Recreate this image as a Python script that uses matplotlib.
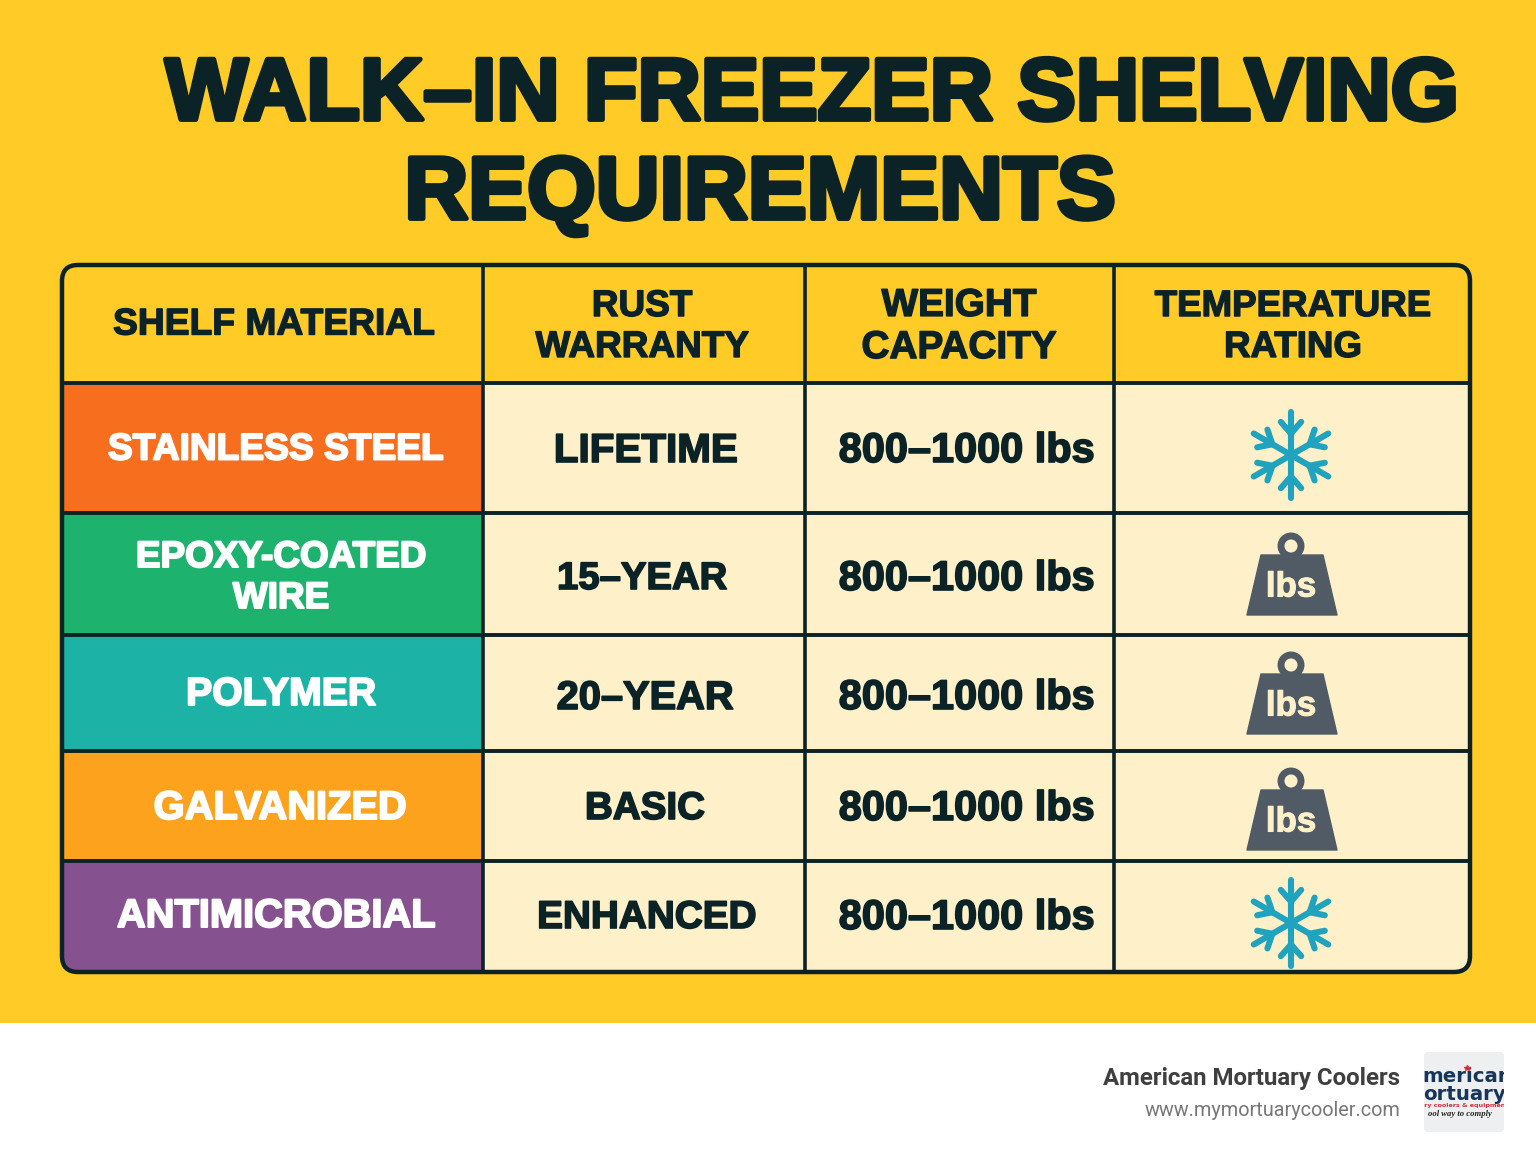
import matplotlib
matplotlib.use('Agg')
import matplotlib.pyplot as plt
import matplotlib.patheffects as pe
from matplotlib.patches import Rectangle, FancyBboxPatch, Polygon, Circle
import numpy as np

title_lines = ['WALK–IN FREEZER SHELVING', 'REQUIREMENTS']
headers = ['SHELF MATERIAL', 'RUST\nWARRANTY', 'WEIGHT\nCAPACITY', 'TEMPERATURE\nRATING']
materials = ['STAINLESS STEEL', 'EPOXY-COATED\nWIRE', 'POLYMER', 'GALVANIZED', 'ANTIMICROBIAL']
warranties = ['LIFETIME', '15–YEAR', '20–YEAR', 'BASIC', 'ENHANCED']
capacities = ['800–1000 lbs'] * 5
rating_icons = ['snow', 'weight', 'weight', 'weight', 'snow']
row_colors = ['#F76F1E', '#1DB36E', '#1DB2A6', '#FCA21C', '#85518F']

DARK = '#0B2226'
YELLOW = '#FFCB27'
CREAM = '#FEF0C8'
HEAVY = 'Liberation Sans'

col_x = [62, 483, 805, 1114, 1470]
row_y = [265, 383, 513, 635, 751, 861, 972]

fig = plt.figure(figsize=(15.36, 11.54), dpi=100)
ax = fig.add_axes([0, 0, 1, 1])
ax.set_xlim(0, 1536)
ax.set_ylim(1154, 0)
ax.axis('off')
renderer = fig.canvas.get_renderer()


def fit_text(x, y, s, width, color=DARK, stroke=1.0, spacing=1.0):
    # scale the font so the string comes out at the wanted pixel width
    t = ax.text(x, y, s, color=color, family=HEAVY, weight='bold', ha='center', va='center',
                multialignment='center', fontsize=20, linespacing=spacing, zorder=5)
    w = t.get_window_extent(renderer).width
    t.set_fontsize(20 * width / w)
    if stroke:
        t.set_path_effects([pe.withStroke(linewidth=stroke, foreground=color)])
    return t


def draw_snow(cx, cy, r, color='#1FA3BE'):
    for a in np.deg2rad(np.arange(0, 360, 60) + 90):
        d = np.array([np.cos(a), np.sin(a)])
        ax.plot([cx, cx + d[0] * r], [cy, cy + d[1] * r], color=color, lw=4.4,
                solid_capstyle='round', zorder=4)
        base = np.array([cx, cy]) + d * r * 0.5
        for off in [-0.72, 0.72]:
            b = a + off
            tip = base + np.array([np.cos(b), np.sin(b)]) * r * 0.36
            ax.plot([base[0], tip[0]], [base[1], tip[1]], color=color, lw=4.4,
                    solid_capstyle='round', zorder=4)


def draw_weight(cx, cy):
    grey = '#505B65'
    ax.add_patch(Circle((cx - 1, cy - 38), 10, fc=CREAM, ec=grey, lw=5, zorder=3))
    ax.add_patch(Polygon([[cx - 31, cy - 29], [cx + 31, cy - 29], [cx + 45, cy + 31], [cx - 45, cy + 31]],
                         closed=True, fc=grey, ec=grey, lw=1, joinstyle='round', zorder=4))
    fit_text(cx - 1, cy + 3, 'lbs', 50, color=CREAM, stroke=0.8)


# background
ax.add_patch(Rectangle((0, 0), 1536, 1023, fc=YELLOW, ec='none', zorder=0))
ax.add_patch(Rectangle((0, 1023), 1536, 131, fc='white', ec='none', zorder=0))

# title
fit_text(812, 97, title_lines[0], 1294, stroke=3.5)
fit_text(760, 196, title_lines[1], 710, stroke=3.5)

# table cells, clipped to the rounded frame
frame = FancyBboxPatch((col_x[0], row_y[0]), col_x[-1] - col_x[0], row_y[-1] - row_y[0],
                       boxstyle='round,pad=0,rounding_size=16', fc='none', ec=DARK, lw=3.2, zorder=3)
ax.add_patch(frame)
clip = FancyBboxPatch((col_x[0], row_y[0]), col_x[-1] - col_x[0], row_y[-1] - row_y[0],
                      boxstyle='round,pad=0,rounding_size=16', fc='none', ec='none',
                      transform=ax.transData)
ax.add_patch(clip)
for i, c in enumerate(row_colors):
    cell = Rectangle((col_x[0], row_y[i + 1]), col_x[1] - col_x[0], row_y[i + 2] - row_y[i + 1],
                     fc=c, ec='none', zorder=1)
    ax.add_patch(cell)
    cell.set_clip_path(clip)
    body = Rectangle((col_x[1], row_y[i + 1]), col_x[-1] - col_x[1], row_y[i + 2] - row_y[i + 1],
                     fc=CREAM, ec='none', zorder=1)
    ax.add_patch(body)
    body.set_clip_path(clip)

for x in col_x[1:-1]:
    ax.plot([x, x], [row_y[0], row_y[-1]], color=DARK, lw=2.6, zorder=2, solid_capstyle='butt')
for y in row_y[1:-1]:
    ax.plot([col_x[0], col_x[-1]], [y, y], color=DARK, lw=2.8, zorder=2, solid_capstyle='butt')

# header row
fit_text(274, 325, headers[0], 322, stroke=1.0)
fit_text(642, 327, headers[1], 213, stroke=1.0, spacing=1.22)
fit_text(959, 327, headers[2], 195, stroke=1.0, spacing=1.22)
fit_text(1293, 327, headers[3], 276, stroke=1.0, spacing=1.22)

# body rows
mat_y = [450, 578, 695, 808, 916]
mat_w = [336, 290, 190, 253, 318]
mat_x = [276, 281, 281, 280, 276]
war_y = [451, 579, 698, 809, 918]
war_w = [184, 170, 177, 120, 219]
war_x = [646, 642, 645, 645, 647]
icon_y = [455, 584, 703, 819, 923]
for i in range(5):
    spacing = 1.22 if '\n' in materials[i] else 1.0
    fit_text(mat_x[i], mat_y[i], materials[i], mat_w[i], color='white', stroke=1.4, spacing=spacing)
    fit_text(war_x[i], war_y[i], warranties[i], war_w[i], stroke=1.2)
    fit_text(967, war_y[i], capacities[i], 256, stroke=1.2)
    if rating_icons[i] == 'snow':
        draw_snow(1291, icon_y[i], 43)
    else:
        draw_weight(1292, icon_y[i])

# footer
ax.text(1400, 1078, 'American Mortuary Coolers', family='Roboto', weight='bold', fontsize=17.3,
        color='#3F3F3F', ha='right', va='center')
ax.text(1400, 1111, 'www.mymortuarycooler.com', family='Roboto', fontsize=14.3,
        color='#777777', ha='right', va='center')

# logo, agg only clips text to a box so use a plain rectangle for that
logo = FancyBboxPatch((1424, 1052), 80, 80, boxstyle='round,pad=0,rounding_size=4',
                      fc='#EEEFF0', ec='none', zorder=1)
ax.add_patch(logo)
logo_box = Rectangle((1424, 1052), 80, 80, fc='none', ec='none')
ax.add_patch(logo_box)
logo_texts = [
    (1467, 1077, 'merican', 14.2, '#16365C', 'bold', 'DejaVu Sans', 'normal'),
    (1464, 1094, 'ortuary', 14.2, '#16365C', 'bold', 'DejaVu Sans', 'normal'),
    (1464, 1106, 'ary coolers & equipment', 4.6, '#D8303A', 'bold', 'DejaVu Sans', 'normal'),
    (1460, 1114, 'ool way to comply', 6.2, '#222222', 'bold', 'Liberation Serif', 'italic'),
]
for lx, ly, s, fs, c, w, fam, st in logo_texts:
    t = ax.text(lx, ly, s, fontsize=fs, color=c, weight=w, family=fam, style=st,
                ha='center', va='center', zorder=2, clip_on=True)
    t.set_clip_path(logo_box)
ax.plot([1467], [1068], marker='*', ms=4, color='#D8303A', zorder=3)

fig.savefig('out.png', dpi=100)
